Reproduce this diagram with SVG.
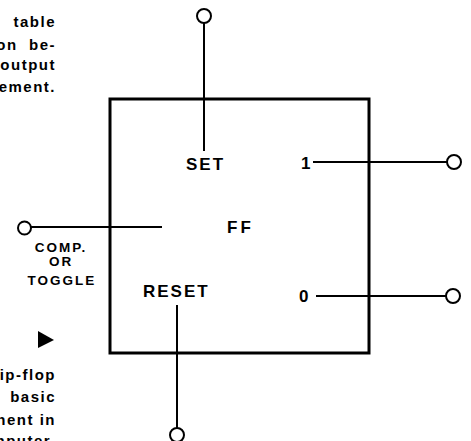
<svg xmlns="http://www.w3.org/2000/svg" width="471" height="441" viewBox="0 0 471 441">
<style>
.cap{font-family:"Liberation Sans","DejaVu Sans",sans-serif;font-weight:bold;font-size:15px;letter-spacing:1.5px;fill:#000;text-anchor:end}
.lbl{font-family:"Liberation Sans","DejaVu Sans",sans-serif;font-weight:bold;font-size:17px;letter-spacing:2px;fill:#000}
.sm{font-family:"Liberation Sans","DejaVu Sans",sans-serif;font-weight:bold;font-size:13.5px;letter-spacing:2px;fill:#000;text-anchor:middle}
.wire{stroke:#000;stroke-width:2;fill:none}
.term{stroke:#000;stroke-width:2;fill:#fff}
</style>
<rect width="471" height="441" fill="#fff"/>
<g id="caption-top">
<text class="cap" x="56" y="27">table</text>
<text class="cap" x="56" y="50" xml:space="preserve">on  be-</text>
<text class="cap" x="56" y="70">output</text>
<text class="cap" x="56" y="92">ement.</text>
</g>
<g id="caption-bottom">
<polygon points="38,331 54,340 38,348" fill="#000"/>
<text class="cap" x="56" y="380">ip-flop</text>
<text class="cap" x="56" y="402">basic</text>
<text class="cap" x="56" y="425">nent in</text>
<text class="cap" x="56" y="446">nputer.</text>
</g>
<g id="connectors">
<line class="wire" x1="204" y1="23" x2="204" y2="151"/>
<line class="wire" x1="31" y1="227" x2="162" y2="227"/>
<line class="wire" x1="313" y1="162" x2="447" y2="162"/>
<line class="wire" x1="316" y1="296" x2="446" y2="296"/>
<line class="wire" x1="177" y1="305" x2="177" y2="428"/>
</g>
<g id="ff">
<rect x="110" y="99" width="259" height="254" fill="none" stroke="#000" stroke-width="3"/>
<text class="lbl" x="227" y="233" style="letter-spacing:3px">FF</text>
</g>
<g id="set">
<circle class="term" cx="204" cy="16" r="7"/>
<text class="lbl" x="186" y="170">SET</text>
</g>
<g id="reset">
<circle class="term" cx="177" cy="435" r="7"/>
<text class="lbl" x="143" y="297">RESET</text>
</g>
<g id="toggle">
<circle class="term" cx="24.5" cy="228" r="6.5"/>
<text class="sm" x="61" y="252">COMP.</text>
<text class="sm" x="61" y="266">OR</text>
<text class="sm" x="62" y="285">TOGGLE</text>
</g>
<g id="out1">
<circle class="term" cx="454" cy="162" r="7"/>
<text class="lbl" x="301" y="169">1</text>
</g>
<g id="out0">
<circle class="term" cx="453" cy="296" r="7"/>
<text class="lbl" x="299" y="302">0</text>
</g>
</svg>
